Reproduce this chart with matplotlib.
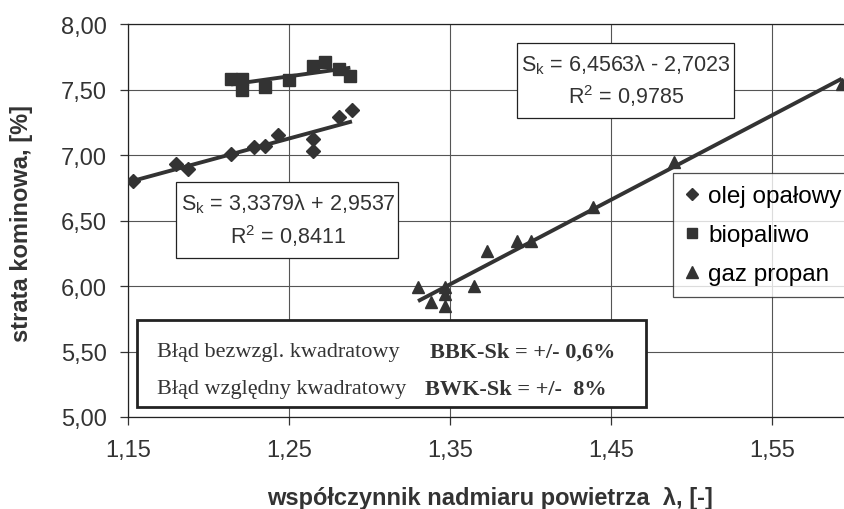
import numpy as np
import matplotlib
matplotlib.use('Agg')
import matplotlib.pyplot as plt
import matplotlib.patches as mpatches
from matplotlib.lines import Line2D
from matplotlib.ticker import FuncFormatter

plt.rcParams['font.family'] = ['Liberation Sans', 'DejaVu Sans']

# Dane
olej_x = [1.153, 1.180, 1.187, 1.214, 1.228, 1.235, 1.243, 1.265, 1.265, 1.281, 1.289]
olej_y = [6.80, 6.93, 6.89, 7.01, 7.06, 7.07, 7.15, 7.12, 7.03, 7.29, 7.34]

bio_x = [1.214, 1.221, 1.221, 1.235, 1.250, 1.265, 1.272, 1.281, 1.288]
bio_y = [7.58, 7.58, 7.50, 7.52, 7.57, 7.68, 7.71, 7.66, 7.60]

propan_x = [1.330, 1.338, 1.347, 1.347, 1.347, 1.3645, 1.3727, 1.3917, 1.400, 1.4387, 1.489, 1.593]
propan_y = [5.99, 5.88, 5.99, 5.94, 5.85, 6.00, 6.27, 6.34, 6.34, 6.60, 6.95, 7.54]

# Linie trendu (rownania z wykresu)
olej_coef = [3.3379, 2.9537]
propan_coef = [6.4563, -2.7023]
bio_coef = np.polyfit(bio_x, bio_y, 1)

x_ticks = [1.15, 1.25, 1.35, 1.45, 1.55]
y_ticks = [5.0, 5.5, 6.0, 6.5, 7.0, 7.5, 8.0]

W, H = 845, 510
def fx(px): return px / W
def fy(py): return 1 - py / H

fig = plt.figure(figsize=(8.45, 5.10), dpi=100)
ax = fig.add_axes([fx(128), fy(418), 1 - fx(128), fy(25) - fy(418)])

kolor = '#333333'
for xs, c in [(olej_x, olej_coef), (bio_x, bio_coef), (propan_x, propan_coef)]:
    xx = np.array([min(xs), max(xs)])
    ax.plot(xx, np.polyval(c, xx), color=kolor, lw=2.8, zorder=3, solid_capstyle='butt')

ax.plot(olej_x, olej_y, 'D', color=kolor, ms=7, ls='none', zorder=4)
ax.plot(bio_x, bio_y, 's', color=kolor, ms=9, ls='none', zorder=4)
ax.plot(propan_x, propan_y, '^', color=kolor, ms=9, ls='none', zorder=4)

ax.set_xlim(1.15, 1.595)
ax.set_ylim(5.0, 8.0)
ax.set_xticks(x_ticks)
ax.set_yticks(y_ticks)
ax.xaxis.set_major_formatter(FuncFormatter(lambda v, p: f"{v:.2f}".replace('.', ',')))
ax.yaxis.set_major_formatter(FuncFormatter(lambda v, p: f"{v:.2f}".replace('.', ',')))
ax.tick_params(labelsize=17, colors='#333333', length=6, width=0.9, direction='out')
ax.tick_params(axis='x', pad=10)
ax.tick_params(axis='y', pad=9)
ax.grid(True, color='#555555', lw=0.8)
ax.set_axisbelow(True)
for s in ['left', 'bottom', 'top']:
    ax.spines[s].set_color('#222222')
    ax.spines[s].set_linewidth(0.9)
ax.spines['right'].set_visible(False)

fig.text(fx(22), fy(223), 'strata kominowa, [%]', rotation=90, ha='center', va='center',
         fontsize=17, fontweight='bold', color='#333333')
fig.text(fx(490), fy(505), 'współczynnik nadmiaru powietrza  λ, [-]', ha='center', va='baseline',
         fontsize=17, fontweight='bold', color='#333333')

# Ramki z rownaniami
def ramka(x0, y0, x1, y1, lw=0.9):
    r = mpatches.Rectangle((fx(x0), fy(y1)), fx(x1) - fx(x0), fy(y0) - fy(y1),
                           transform=fig.transFigure, facecolor='white',
                           edgecolor='#222222', lw=lw, zorder=5)
    fig.patches.append(r)

ramka(517, 44, 734, 119)
fig.text(fx(626), fy(65), r'S$_\mathregular{k}$ = 6,4563λ - 2,7023', ha='center', va='center',
         fontsize=15.5, color='#333333', zorder=6)
fig.text(fx(626), fy(96), r'R$^\mathregular{2}$ = 0,9785', ha='center', va='center',
         fontsize=15.5, color='#333333', zorder=6)

ramka(176, 183, 398, 259)
fig.text(fx(288), fy(204), r'S$_\mathregular{k}$ = 3,3379λ + 2,9537', ha='center', va='center',
         fontsize=15.5, color='#333333', zorder=6)
fig.text(fx(288), fy(236), r'R$^\mathregular{2}$ = 0,8411', ha='center', va='center',
         fontsize=15.5, color='#333333', zorder=6)

# Ramka z bledami
ramka(137, 321, 646, 408, lw=2.0)
serif = ['Liberation Serif', 'DejaVu Serif']
fig.text(fx(157), fy(353), 'Błąd bezwzgl. kwadratowy', family=serif, fontsize=16,
         ha='left', va='center', color='#333333', zorder=7)
fig.text(fx(430), fy(353), 'BBK-Sk = +/- 0,6%', family=serif, fontsize=16, fontweight='bold',
         ha='left', va='center', color='#333333', zorder=7)
fig.text(fx(157), fy(390), 'Błąd względny kwadratowy', family=serif, fontsize=16,
         ha='left', va='center', color='#333333', zorder=7)
fig.text(fx(425), fy(390), 'BWK-Sk = +/-  8%', family=serif, fontsize=16, fontweight='bold',
         ha='left', va='center', color='#333333', zorder=7)

# Legenda
uchwyty = [
    Line2D([], [], marker='D', color=kolor, ls='none', ms=6.5, label='olej opałowy'),
    Line2D([], [], marker='s', color=kolor, ls='none', ms=7.5, label='biopaliwo'),
    Line2D([], [], marker='^', color=kolor, ls='none', ms=9, label='gaz propan'),
]
leg = fig.legend(handles=uchwyty, loc='upper left', bbox_to_anchor=(fx(673), fy(174)),
                 fontsize=17.5, frameon=True, fancybox=False, handlelength=0.6,
                 handletextpad=0.35, borderpad=0.5, borderaxespad=0, labelspacing=0.7)
leg.get_frame().set_edgecolor('#222222')
leg.get_frame().set_linewidth(0.9)
leg.set_zorder(8)

plt.savefig('out.png', dpi=100, facecolor='white')
